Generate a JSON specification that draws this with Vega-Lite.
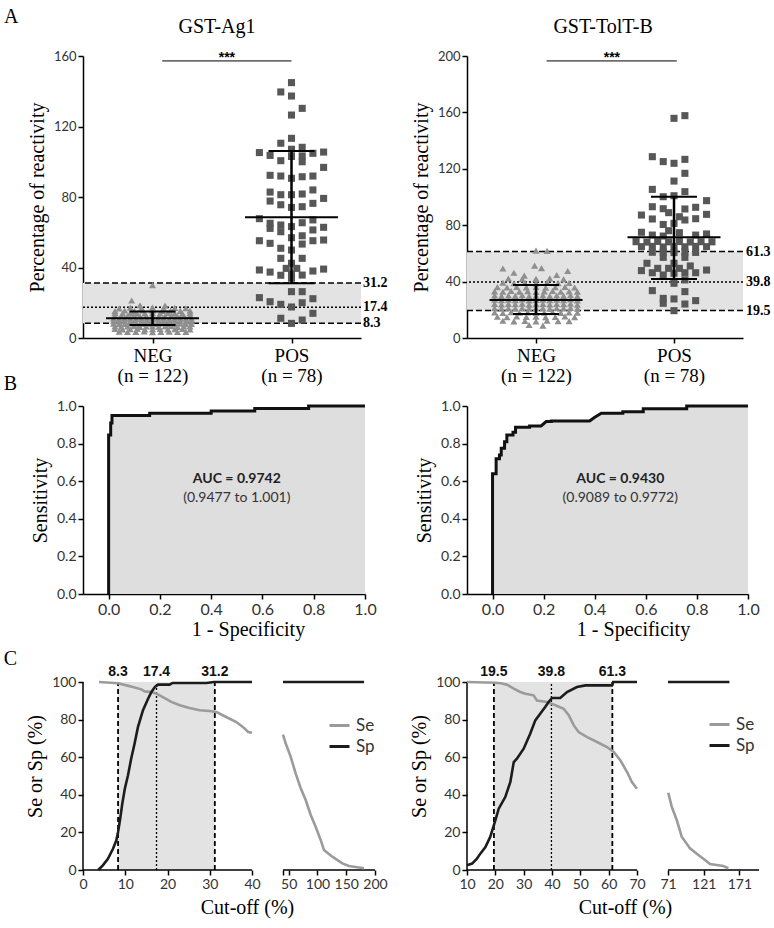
{
"$schema": "https://vega.github.io/schema/vega-lite/v6.json",
"autosize": {"type": "none"},
"padding": {"left": 83, "top": 56, "right": 691, "bottom": 872},
"background": "white",
"columns": 2,
"spacing": {"row": 68, "column": 92},
"bounds": "flush",
"align": "each",
"resolve": {"scale": {"color": "independent"}, "legend": {"color": "independent"}},
"config": {
  "view": {"stroke": null},
  "axis": {"domainColor": "#000", "domainWidth": 1.5, "tickColor": "#000", "tickWidth": 1.5, "tickSize": 5, "tickCount": 30, "labelFont": "Lato", "labelColor": "#333", "labelFontSize": 14, "titleFont": "Liberation Serif", "titleFontSize": 20, "titleFontWeight": "normal", "titleColor": "#000", "grid": false, "labelPadding": 2, "titlePadding": 6, "labelFlush": false, "labelOverlap": false}
},
"datasets": {
  "a1": [
    {"g":"N","x":1.0,"v":30.0},{"g":"N","x":0.85,"v":21.3},{"g":"N","x":0.91,"v":18.6},{"g":"N","x":1.09,"v":18.4},
    {"g":"N","x":0.76,"v":16.8},{"g":"N","x":0.84,"v":17.2},{"g":"N","x":0.92,"v":16.9},{"g":"N","x":1.0,"v":17.3},{"g":"N","x":1.08,"v":16.7},{"g":"N","x":1.16,"v":17.1},{"g":"N","x":1.24,"v":16.9},
    {"g":"N","x":0.73,"v":15.3},{"g":"N","x":0.80,"v":15.6},{"g":"N","x":0.87,"v":15.4},{"g":"N","x":0.93,"v":15.7},{"g":"N","x":1.0,"v":15.5},{"g":"N","x":1.07,"v":15.3},{"g":"N","x":1.13,"v":15.6},{"g":"N","x":1.20,"v":15.4},{"g":"N","x":1.27,"v":15.5},
    {"g":"N","x":0.73,"v":14.1},{"g":"N","x":0.785,"v":13.9},{"g":"N","x":0.84,"v":14.2},{"g":"N","x":0.89,"v":13.8},{"g":"N","x":0.945,"v":14.0},{"g":"N","x":1.0,"v":14.1},{"g":"N","x":1.055,"v":13.9},{"g":"N","x":1.11,"v":14.2},{"g":"N","x":1.16,"v":14.0},{"g":"N","x":1.215,"v":13.8},{"g":"N","x":1.27,"v":14.1},
    {"g":"N","x":0.73,"v":12.6},{"g":"N","x":0.775,"v":12.4},{"g":"N","x":0.82,"v":12.5},{"g":"N","x":0.865,"v":12.7},{"g":"N","x":0.91,"v":12.3},{"g":"N","x":0.955,"v":12.5},{"g":"N","x":1.0,"v":12.6},{"g":"N","x":1.045,"v":12.4},{"g":"N","x":1.09,"v":12.5},{"g":"N","x":1.135,"v":12.7},{"g":"N","x":1.18,"v":12.3},{"g":"N","x":1.225,"v":12.5},{"g":"N","x":1.27,"v":12.6},
    {"g":"N","x":0.72,"v":11.1},{"g":"N","x":0.76,"v":10.9},{"g":"N","x":0.80,"v":11.0},{"g":"N","x":0.84,"v":11.2},{"g":"N","x":0.88,"v":10.8},{"g":"N","x":0.92,"v":11.0},{"g":"N","x":0.96,"v":11.1},{"g":"N","x":1.0,"v":10.9},{"g":"N","x":1.04,"v":11.0},{"g":"N","x":1.08,"v":11.2},{"g":"N","x":1.12,"v":10.8},{"g":"N","x":1.16,"v":11.0},{"g":"N","x":1.20,"v":11.1},{"g":"N","x":1.24,"v":10.9},{"g":"N","x":1.28,"v":11.0},
    {"g":"N","x":0.72,"v":9.6},{"g":"N","x":0.76,"v":9.4},{"g":"N","x":0.80,"v":9.5},{"g":"N","x":0.84,"v":9.7},{"g":"N","x":0.88,"v":9.3},{"g":"N","x":0.92,"v":9.5},{"g":"N","x":0.96,"v":9.6},{"g":"N","x":1.0,"v":9.4},{"g":"N","x":1.04,"v":9.5},{"g":"N","x":1.08,"v":9.7},{"g":"N","x":1.12,"v":9.3},{"g":"N","x":1.16,"v":9.5},{"g":"N","x":1.20,"v":9.6},{"g":"N","x":1.24,"v":9.4},{"g":"N","x":1.28,"v":9.5},
    {"g":"N","x":0.72,"v":8.1},{"g":"N","x":0.76,"v":7.9},{"g":"N","x":0.80,"v":8.0},{"g":"N","x":0.84,"v":8.2},{"g":"N","x":0.88,"v":7.8},{"g":"N","x":0.92,"v":8.0},{"g":"N","x":0.96,"v":8.1},{"g":"N","x":1.0,"v":7.9},{"g":"N","x":1.04,"v":8.0},{"g":"N","x":1.08,"v":8.2},{"g":"N","x":1.12,"v":7.8},{"g":"N","x":1.16,"v":8.0},{"g":"N","x":1.20,"v":8.1},{"g":"N","x":1.24,"v":7.9},{"g":"N","x":1.28,"v":8.0},
    {"g":"N","x":0.73,"v":6.6},{"g":"N","x":0.775,"v":6.4},{"g":"N","x":0.82,"v":6.5},{"g":"N","x":0.865,"v":6.7},{"g":"N","x":0.91,"v":6.3},{"g":"N","x":0.955,"v":6.5},{"g":"N","x":1.0,"v":6.6},{"g":"N","x":1.045,"v":6.4},{"g":"N","x":1.09,"v":6.5},{"g":"N","x":1.135,"v":6.7},{"g":"N","x":1.18,"v":6.3},{"g":"N","x":1.225,"v":6.5},{"g":"N","x":1.27,"v":6.6},
    {"g":"N","x":0.73,"v":5.1},{"g":"N","x":0.785,"v":4.9},{"g":"N","x":0.84,"v":5.0},{"g":"N","x":0.89,"v":5.2},{"g":"N","x":0.945,"v":4.8},{"g":"N","x":1.0,"v":5.0},{"g":"N","x":1.055,"v":5.1},{"g":"N","x":1.11,"v":4.9},{"g":"N","x":1.16,"v":5.0},{"g":"N","x":1.215,"v":5.2},{"g":"N","x":1.27,"v":4.8},
    {"g":"N","x":0.76,"v":3.6},{"g":"N","x":0.82,"v":3.4},{"g":"N","x":0.88,"v":3.5},{"g":"N","x":0.94,"v":3.7},{"g":"N","x":1.0,"v":3.3},{"g":"N","x":1.06,"v":3.5},{"g":"N","x":1.12,"v":3.6},{"g":"N","x":1.18,"v":3.4},{"g":"N","x":1.24,"v":3.5},
    {"g":"P","x":2.0,"v":144.9},{"g":"P","x":1.923,"v":139.6},{"g":"P","x":2.0,"v":137.3},{"g":"P","x":2.077,"v":130.3},{"g":"P","x":2.0,"v":126.5},{"g":"P","x":2.0,"v":113.3},{"g":"P","x":1.923,"v":110.5},{"g":"P","x":2.077,"v":108.2},{"g":"P","x":2.0,"v":107.1},{"g":"P","x":1.769,"v":105.2},
    {"g":"P","x":1.846,"v":103.6},{"g":"P","x":2.077,"v":103.3},{"g":"P","x":2.154,"v":104.8},{"g":"P","x":2.231,"v":105.5},{"g":"P","x":1.923,"v":100.6},{"g":"P","x":2.077,"v":100.0},{"g":"P","x":2.0,"v":103.0},{"g":"P","x":2.231,"v":96.8},{"g":"P","x":1.846,"v":92.3},{"g":"P","x":1.923,"v":91.9},
    {"g":"P","x":2.0,"v":90.6},{"g":"P","x":2.077,"v":91.5},{"g":"P","x":2.154,"v":91.9},{"g":"P","x":1.846,"v":82.8},{"g":"P","x":1.923,"v":81.3},{"g":"P","x":2.0,"v":81.3},{"g":"P","x":2.077,"v":81.7},{"g":"P","x":2.154,"v":84.0},{"g":"P","x":2.231,"v":79.2},{"g":"P","x":1.846,"v":77.7},
    {"g":"P","x":1.923,"v":75.6},{"g":"P","x":2.0,"v":74.1},{"g":"P","x":2.077,"v":74.5},{"g":"P","x":2.154,"v":76.4},{"g":"P","x":1.769,"v":67.7},{"g":"P","x":1.846,"v":65.1},{"g":"P","x":1.846,"v":62.2},{"g":"P","x":1.923,"v":64.1},{"g":"P","x":1.923,"v":60.3},{"g":"P","x":2.0,"v":63.2},
    {"g":"P","x":2.077,"v":65.4},{"g":"P","x":2.154,"v":67.0},{"g":"P","x":2.154,"v":61.3},{"g":"P","x":2.231,"v":62.8},{"g":"P","x":2.0,"v":56.9},{"g":"P","x":2.077,"v":58.0},{"g":"P","x":1.769,"v":55.2},{"g":"P","x":1.846,"v":53.7},{"g":"P","x":2.077,"v":53.3},{"g":"P","x":2.154,"v":55.2},
    {"g":"P","x":2.231,"v":55.6},{"g":"P","x":1.923,"v":50.9},{"g":"P","x":2.0,"v":49.9},{"g":"P","x":1.923,"v":45.2},{"g":"P","x":2.077,"v":45.2},{"g":"P","x":2.0,"v":42.4},{"g":"P","x":1.769,"v":38.6},{"g":"P","x":1.846,"v":37.4},{"g":"P","x":1.923,"v":35.6},{"g":"P","x":1.962,"v":39.5},
    {"g":"P","x":2.038,"v":39.5},{"g":"P","x":2.0,"v":36.3},{"g":"P","x":2.077,"v":35.7},{"g":"P","x":2.154,"v":38.0},{"g":"P","x":2.231,"v":39.1},{"g":"P","x":2.0,"v":33.9},{"g":"P","x":2.0,"v":26.3},{"g":"P","x":2.077,"v":26.3},{"g":"P","x":1.769,"v":22.9},{"g":"P","x":1.846,"v":20.6},
    {"g":"P","x":1.923,"v":19.1},{"g":"P","x":2.0,"v":17.6},{"g":"P","x":2.077,"v":20.0},{"g":"P","x":2.154,"v":22.3},{"g":"P","x":2.154,"v":14.0},{"g":"P","x":1.923,"v":11.2},{"g":"P","x":2.0,"v":8.3},{"g":"P","x":2.077,"v":10.2}
  ],
  "a2": [
    {"g":"N","x":1.0,"v":62.0},{"g":"N","x":1.08,"v":61.8},{"g":"N","x":0.99,"v":51.3},{"g":"N","x":0.76,"v":49.3},{"g":"N","x":1.04,"v":49.6},{"g":"N","x":0.84,"v":46.3},{"g":"N","x":1.23,"v":47.5},{"g":"N","x":0.915,"v":44.2},{"g":"N","x":1.15,"v":44.7},
    {"g":"N","x":0.80,"v":42.2},{"g":"N","x":0.90,"v":41.8},{"g":"N","x":1.0,"v":42.0},{"g":"N","x":1.10,"v":42.3},{"g":"N","x":1.20,"v":41.7},
    {"g":"N","x":0.76,"v":39.2},{"g":"N","x":0.84,"v":38.8},{"g":"N","x":0.92,"v":39.1},{"g":"N","x":1.0,"v":38.7},{"g":"N","x":1.08,"v":39.3},{"g":"N","x":1.16,"v":38.9},{"g":"N","x":1.24,"v":39.0},
    {"g":"N","x":0.72,"v":36.1},{"g":"N","x":0.79,"v":35.8},{"g":"N","x":0.86,"v":36.3},{"g":"N","x":0.93,"v":35.9},{"g":"N","x":1.0,"v":36.2},{"g":"N","x":1.07,"v":35.7},{"g":"N","x":1.14,"v":36.0},{"g":"N","x":1.21,"v":36.3},{"g":"N","x":1.28,"v":35.8},
    {"g":"N","x":0.70,"v":33.1},{"g":"N","x":0.76,"v":32.8},{"g":"N","x":0.82,"v":33.3},{"g":"N","x":0.88,"v":32.9},{"g":"N","x":0.94,"v":33.2},{"g":"N","x":1.0,"v":32.7},{"g":"N","x":1.06,"v":33.0},{"g":"N","x":1.12,"v":33.3},{"g":"N","x":1.18,"v":32.8},{"g":"N","x":1.24,"v":33.1},{"g":"N","x":1.30,"v":32.9},
    {"g":"N","x":0.70,"v":30.2},{"g":"N","x":0.75,"v":29.8},{"g":"N","x":0.80,"v":30.1},{"g":"N","x":0.85,"v":29.9},{"g":"N","x":0.90,"v":30.3},{"g":"N","x":0.95,"v":29.7},{"g":"N","x":1.0,"v":30.0},{"g":"N","x":1.05,"v":30.2},{"g":"N","x":1.10,"v":29.8},{"g":"N","x":1.15,"v":30.1},{"g":"N","x":1.20,"v":29.9},{"g":"N","x":1.25,"v":30.3},{"g":"N","x":1.30,"v":29.7},
    {"g":"N","x":0.70,"v":27.2},{"g":"N","x":0.75,"v":26.8},{"g":"N","x":0.80,"v":27.1},{"g":"N","x":0.85,"v":26.9},{"g":"N","x":0.90,"v":27.3},{"g":"N","x":0.95,"v":26.7},{"g":"N","x":1.0,"v":27.0},{"g":"N","x":1.05,"v":27.2},{"g":"N","x":1.10,"v":26.8},{"g":"N","x":1.15,"v":27.1},{"g":"N","x":1.20,"v":26.9},{"g":"N","x":1.25,"v":27.3},{"g":"N","x":1.30,"v":26.7},
    {"g":"N","x":0.70,"v":24.2},{"g":"N","x":0.75,"v":23.8},{"g":"N","x":0.80,"v":24.1},{"g":"N","x":0.85,"v":23.9},{"g":"N","x":0.90,"v":24.3},{"g":"N","x":0.95,"v":23.7},{"g":"N","x":1.0,"v":24.0},{"g":"N","x":1.05,"v":24.2},{"g":"N","x":1.10,"v":23.8},{"g":"N","x":1.15,"v":24.1},{"g":"N","x":1.20,"v":23.9},{"g":"N","x":1.25,"v":24.3},{"g":"N","x":1.30,"v":23.7},
    {"g":"N","x":0.70,"v":21.2},{"g":"N","x":0.75,"v":20.8},{"g":"N","x":0.80,"v":21.1},{"g":"N","x":0.85,"v":20.9},{"g":"N","x":0.90,"v":21.3},{"g":"N","x":0.95,"v":20.7},{"g":"N","x":1.0,"v":21.0},{"g":"N","x":1.05,"v":21.2},{"g":"N","x":1.10,"v":20.8},{"g":"N","x":1.15,"v":21.1},{"g":"N","x":1.20,"v":20.9},{"g":"N","x":1.25,"v":21.3},{"g":"N","x":1.30,"v":20.7},
    {"g":"N","x":0.70,"v":18.1},{"g":"N","x":0.76,"v":17.8},{"g":"N","x":0.82,"v":18.3},{"g":"N","x":0.88,"v":17.9},{"g":"N","x":0.94,"v":18.2},{"g":"N","x":1.0,"v":17.7},{"g":"N","x":1.06,"v":18.0},{"g":"N","x":1.12,"v":18.3},{"g":"N","x":1.18,"v":17.8},{"g":"N","x":1.24,"v":18.1},{"g":"N","x":1.30,"v":17.9},
    {"g":"N","x":0.72,"v":15.1},{"g":"N","x":0.79,"v":14.8},{"g":"N","x":0.86,"v":15.3},{"g":"N","x":0.93,"v":14.9},{"g":"N","x":1.0,"v":15.2},{"g":"N","x":1.07,"v":14.7},{"g":"N","x":1.14,"v":15.0},{"g":"N","x":1.21,"v":15.3},{"g":"N","x":1.28,"v":14.8},
    {"g":"N","x":0.76,"v":12.2},{"g":"N","x":0.84,"v":11.8},{"g":"N","x":0.92,"v":12.1},{"g":"N","x":1.0,"v":11.7},{"g":"N","x":1.08,"v":12.3},{"g":"N","x":1.16,"v":11.9},{"g":"N","x":1.24,"v":12.0},
    {"g":"N","x":0.95,"v":9.2},{"g":"N","x":1.05,"v":8.8},
    {"g":"P","x":2.0,"v":155.8},{"g":"P","x":2.079,"v":157.7},{"g":"P","x":1.843,"v":128.6},{"g":"P","x":1.922,"v":125.1},{"g":"P","x":2.0,"v":123.9},{"g":"P","x":2.079,"v":126.7},{"g":"P","x":2.079,"v":116.8},{"g":"P","x":2.0,"v":111.3},{"g":"P","x":1.843,"v":105.4},{"g":"P","x":1.922,"v":100.2},
    {"g":"P","x":2.0,"v":100.9},{"g":"P","x":2.079,"v":103.8},{"g":"P","x":2.236,"v":97.4},{"g":"P","x":1.843,"v":93.1},{"g":"P","x":1.922,"v":91.7},{"g":"P","x":1.961,"v":88.9},{"g":"P","x":2.079,"v":91.5},{"g":"P","x":2.157,"v":92.7},{"g":"P","x":1.764,"v":87.2},{"g":"P","x":1.843,"v":84.4},
    {"g":"P","x":2.0,"v":81.3},{"g":"P","x":2.079,"v":83.7},{"g":"P","x":2.157,"v":84.6},{"g":"P","x":2.236,"v":87.7},{"g":"P","x":1.764,"v":75.0},{"g":"P","x":1.843,"v":73.0},{"g":"P","x":1.922,"v":72.3},{"g":"P","x":1.961,"v":76.1},{"g":"P","x":2.039,"v":74.7},{"g":"P","x":2.157,"v":73.0},
    {"g":"P","x":2.236,"v":73.8},
    {"g":"P","x":1.725,"v":68.3},{"g":"P","x":1.804,"v":68.0},{"g":"P","x":1.882,"v":68.5},{"g":"P","x":1.961,"v":68.2},{"g":"P","x":2.039,"v":68.4},{"g":"P","x":2.118,"v":68.1},{"g":"P","x":2.196,"v":68.3},{"g":"P","x":2.275,"v":68.2},
    {"g":"P","x":1.764,"v":64.8},{"g":"P","x":1.843,"v":65.0},{"g":"P","x":1.922,"v":64.6},{"g":"P","x":2.0,"v":64.9},{"g":"P","x":2.079,"v":64.7},{"g":"P","x":2.157,"v":65.0},{"g":"P","x":2.236,"v":64.8},
    {"g":"P","x":1.843,"v":60.8},{"g":"P","x":1.922,"v":61.0},{"g":"P","x":2.0,"v":60.6},{"g":"P","x":2.079,"v":60.9},{"g":"P","x":2.157,"v":60.7},
    {"g":"P","x":1.922,"v":57.2},{"g":"P","x":2.079,"v":57.2},{"g":"P","x":1.804,"v":53.0},{"g":"P","x":2.0,"v":53.0},{"g":"P","x":1.764,"v":47.8},{"g":"P","x":1.843,"v":46.3},{"g":"P","x":1.882,"v":49.4},{"g":"P","x":1.922,"v":44.7},{"g":"P","x":1.961,"v":49.4},{"g":"P","x":2.0,"v":45.9},
    {"g":"P","x":2.039,"v":49.4},{"g":"P","x":2.079,"v":46.3},{"g":"P","x":2.118,"v":51.1},{"g":"P","x":2.157,"v":46.3},{"g":"P","x":2.236,"v":48.2},{"g":"P","x":2.0,"v":38.8},{"g":"P","x":1.843,"v":33.6},{"g":"P","x":2.079,"v":32.9},{"g":"P","x":1.922,"v":28.1},{"g":"P","x":2.0,"v":27.7},
    {"g":"P","x":1.922,"v":24.6},{"g":"P","x":2.079,"v":24.1},{"g":"P","x":2.157,"v":26.5},{"g":"P","x":2.0,"v":19.4},{"g":"P","x":1.922,"v":80.5},{"g":"P","x":2.039,"v":86.0},{"g":"P","x":2.079,"v":41.2}
  ],
  "r1": [
    {"i":0,"f":0,"s":0},{"i":1,"f":0,"s":0.846},{"i":2,"f":0.008,"s":0.846},{"i":3,"f":0.008,"s":0.91},{"i":4,"f":0.013,"s":0.91},{"i":5,"f":0.013,"s":0.949},{"i":6,"f":0.16,"s":0.949},{"i":7,"f":0.16,"s":0.962},{"i":8,"f":0.40,"s":0.962},{"i":9,"f":0.40,"s":0.974},{"i":10,"f":0.57,"s":0.974},{"i":11,"f":0.57,"s":0.987},{"i":12,"f":0.78,"s":0.987},{"i":13,"f":0.78,"s":1.0},{"i":14,"f":1.0,"s":1.0}
  ],
  "r2": [
    {"i":0,"f":0,"s":0},{"i":1,"f":0,"s":0.64},{"i":2,"f":0.014,"s":0.64},{"i":3,"f":0.014,"s":0.72},{"i":4,"f":0.027,"s":0.72},{"i":5,"f":0.027,"s":0.74},{"i":6,"f":0.034,"s":0.74},{"i":7,"f":0.034,"s":0.775},{"i":8,"f":0.047,"s":0.775},{"i":9,"f":0.047,"s":0.81},{"i":10,"f":0.056,"s":0.81},{"i":11,"f":0.056,"s":0.846},{"i":12,"f":0.08,"s":0.846},{"i":13,"f":0.08,"s":0.86},{"i":14,"f":0.09,"s":0.86},{"i":15,"f":0.09,"s":0.887},{"i":16,"f":0.145,"s":0.887},{"i":17,"f":0.145,"s":0.894},{"i":18,"f":0.19,"s":0.894},{"i":19,"f":0.21,"s":0.917},{"i":20,"f":0.23,"s":0.917},{"i":21,"f":0.23,"s":0.92},{"i":22,"f":0.38,"s":0.92},{"i":23,"f":0.40,"s":0.94},{"i":24,"f":0.426,"s":0.961},{"i":25,"f":0.51,"s":0.961},{"i":26,"f":0.51,"s":0.97},{"i":27,"f":0.59,"s":0.97},{"i":28,"f":0.59,"s":0.985},{"i":29,"f":0.76,"s":0.985},{"i":30,"f":0.76,"s":1.0},{"i":31,"f":1.0,"s":1.0}
  ],
  "c1": [
    {"c":"Se","s":"e1","x":3.8,"y":100},{"c":"Se","s":"e1","x":8.3,"y":99.3},{"c":"Se","s":"e1","x":10.3,"y":98.2},{"c":"Se","s":"e1","x":11.8,"y":97.3},{"c":"Se","s":"e1","x":13.8,"y":96.1},{"c":"Se","s":"e1","x":14.6,"y":95.0},{"c":"Se","s":"e1","x":16.2,"y":94.7},{"c":"Se","s":"e1","x":17.4,"y":93.8},{"c":"Se","s":"e1","x":18.9,"y":92.0},{"c":"Se","s":"e1","x":20.9,"y":89.4},{"c":"Se","s":"e1","x":22.9,"y":87.6},{"c":"Se","s":"e1","x":25.2,"y":86.2},{"c":"Se","s":"e1","x":27.6,"y":85.0},{"c":"Se","s":"e1","x":29.9,"y":84.6},{"c":"Se","s":"e1","x":31.6,"y":84.0},{"c":"Se","s":"e1","x":33.9,"y":81.4},{"c":"Se","s":"e1","x":36.3,"y":78.7},{"c":"Se","s":"e1","x":37.9,"y":76.0},{"c":"Se","s":"e1","x":39.1,"y":73.4},{"c":"Se","s":"e1","x":40.0,"y":73.0},
    {"c":"Se","s":"e2","x":40.01,"y":72.0},{"c":"Se","s":"e2","x":44.6,"y":67.4},{"c":"Se","s":"e2","x":53.3,"y":60.3},{"c":"Se","s":"e2","x":62.0,"y":51.4},{"c":"Se","s":"e2","x":70.8,"y":43.5},{"c":"Se","s":"e2","x":79.5,"y":37.2},{"c":"Se","s":"e2","x":88.2,"y":29.3},{"c":"Se","s":"e2","x":96.8,"y":23.0},{"c":"Se","s":"e2","x":105.5,"y":16.0},{"c":"Se","s":"e2","x":111.3,"y":10.6},{"c":"Se","s":"e2","x":125.8,"y":7.1},{"c":"Se","s":"e2","x":143.2,"y":3.5},{"c":"Se","s":"e2","x":154.8,"y":2.1},{"c":"Se","s":"e2","x":180.9,"y":0.9},
    {"c":"Sp","s":"p1","x":3.6,"y":0},{"c":"Sp","s":"p1","x":4.7,"y":2.5},{"c":"Sp","s":"p1","x":5.9,"y":6.0},{"c":"Sp","s":"p1","x":7.1,"y":11.3},{"c":"Sp","s":"p1","x":7.9,"y":15.8},{"c":"Sp","s":"p1","x":8.3,"y":20.2},{"c":"Sp","s":"p1","x":8.8,"y":27.3},{"c":"Sp","s":"p1","x":9.3,"y":35.3},{"c":"Sp","s":"p1","x":9.9,"y":43.2},{"c":"Sp","s":"p1","x":10.65,"y":50.4},{"c":"Sp","s":"p1","x":11.4,"y":59.2},{"c":"Sp","s":"p1","x":12.2,"y":67.2},{"c":"Sp","s":"p1","x":13.0,"y":76.0},{"c":"Sp","s":"p1","x":14.2,"y":85.0},{"c":"Sp","s":"p1","x":15.4,"y":91.1},{"c":"Sp","s":"p1","x":16.2,"y":94.7},{"c":"Sp","s":"p1","x":17.0,"y":97.3},{"c":"Sp","s":"p1","x":17.75,"y":98.6},{"c":"Sp","s":"p1","x":20.5,"y":98.6},{"c":"Sp","s":"p1","x":21.2,"y":99.5},{"c":"Sp","s":"p1","x":29.2,"y":99.5},{"c":"Sp","s":"p1","x":31.0,"y":100},{"c":"Sp","s":"p1","x":40.0,"y":100},
    {"c":"Sp","s":"p2","x":40.01,"y":100},{"c":"Sp","s":"p2","x":181,"y":100}
  ],
  "c2": [
    {"c":"Se","s":"e1","x":10,"y":100},{"c":"Se","s":"e1","x":20,"y":99.6},{"c":"Se","s":"e1","x":22,"y":99.3},{"c":"Se","s":"e1","x":24.1,"y":98.6},{"c":"Se","s":"e1","x":26.5,"y":96.5},{"c":"Se","s":"e1","x":28.8,"y":94.7},{"c":"Se","s":"e1","x":30.6,"y":93.8},{"c":"Se","s":"e1","x":33.5,"y":92.9},{"c":"Se","s":"e1","x":34.7,"y":90.2},{"c":"Se","s":"e1","x":38.2,"y":89.4},{"c":"Se","s":"e1","x":41.2,"y":87.6},{"c":"Se","s":"e1","x":44.1,"y":85.8},{"c":"Se","s":"e1","x":45.9,"y":82.3},{"c":"Se","s":"e1","x":47.7,"y":76.9},{"c":"Se","s":"e1","x":49.4,"y":73.4},{"c":"Se","s":"e1","x":52.4,"y":70.7},{"c":"Se","s":"e1","x":55.9,"y":68.1},{"c":"Se","s":"e1","x":59.4,"y":65.4},{"c":"Se","s":"e1","x":61.8,"y":62.8},{"c":"Se","s":"e1","x":64.1,"y":58.4},{"c":"Se","s":"e1","x":66.5,"y":52.1},{"c":"Se","s":"e1","x":68.2,"y":46.8},{"c":"Se","s":"e1","x":70,"y":43.2},
    {"c":"Se","s":"e2","x":71.4,"y":41.1},{"c":"Se","s":"e2","x":76.2,"y":33.7},{"c":"Se","s":"e2","x":83.2,"y":26.6},{"c":"Se","s":"e2","x":90.2,"y":17.7},{"c":"Se","s":"e2","x":101.8,"y":11.5},{"c":"Se","s":"e2","x":113.5,"y":8.0},{"c":"Se","s":"e2","x":122.8,"y":5.3},{"c":"Se","s":"e2","x":129.8,"y":3.2},{"c":"Se","s":"e2","x":148.5,"y":2.1},{"c":"Se","s":"e2","x":155.5,"y":0.9},
    {"c":"Sp","s":"p1","x":10,"y":2.5},{"c":"Sp","s":"p1","x":11.8,"y":3.4},{"c":"Sp","s":"p1","x":13.5,"y":6.0},{"c":"Sp","s":"p1","x":14.7,"y":8.7},{"c":"Sp","s":"p1","x":16.5,"y":12.2},{"c":"Sp","s":"p1","x":18.2,"y":17.6},{"c":"Sp","s":"p1","x":20,"y":26.4},{"c":"Sp","s":"p1","x":21.2,"y":32.6},{"c":"Sp","s":"p1","x":23.5,"y":38.8},{"c":"Sp","s":"p1","x":25.3,"y":46.8},{"c":"Sp","s":"p1","x":26.5,"y":57.4},{"c":"Sp","s":"p1","x":27.6,"y":59.2},{"c":"Sp","s":"p1","x":30,"y":64.5},{"c":"Sp","s":"p1","x":32.3,"y":72.5},{"c":"Sp","s":"p1","x":34.1,"y":79.6},{"c":"Sp","s":"p1","x":35.9,"y":83.2},{"c":"Sp","s":"p1","x":37.6,"y":86.7},{"c":"Sp","s":"p1","x":38.8,"y":89.4},{"c":"Sp","s":"p1","x":40,"y":91.5},{"c":"Sp","s":"p1","x":42.9,"y":91.5},{"c":"Sp","s":"p1","x":45.3,"y":94.7},{"c":"Sp","s":"p1","x":48.8,"y":97.3},{"c":"Sp","s":"p1","x":51.8,"y":98.2},{"c":"Sp","s":"p1","x":61.2,"y":98.2},{"c":"Sp","s":"p1","x":61.6,"y":100},{"c":"Sp","s":"p1","x":70,"y":100},
    {"c":"Sp","s":"p2","x":71,"y":100},{"c":"Sp","s":"p2","x":157,"y":100}
  ]
},
"concat": [
  {
    "width": 278, "height": 282,
    "layer": [
      {"data": {"values": [{"lo": 8.3, "hi": 31.2}]}, "mark": {"type": "rect", "color": "#e3e3e3"},
       "encoding": {"y": {"field": "lo", "type": "quantitative", "scale": {"domain": [0, 160], "nice": false, "zero": false}, "axis": {"values": [0, 40, 80, 120, 160], "labelFontSize": 13, "title": "Percentage of reactivity"}}, "y2": {"field": "hi"}}},
      {"data": {"values": [{"t": 31.2}, {"t": 8.3}]}, "mark": {"type": "rule", "color": "#000", "strokeWidth": 1.5, "strokeDash": [6, 3]}, "encoding": {"y": {"field": "t", "type": "quantitative"}}},
      {"data": {"values": [{"t": 17.4}]}, "mark": {"type": "rule", "color": "#000", "strokeWidth": 1.5, "strokeDash": [2, 2]}, "encoding": {"y": {"field": "t", "type": "quantitative"}}},
      {"data": {"name": "a1"}, "transform": [{"filter": "datum.g == 'N'"}], "mark": {"type": "point", "shape": "triangle-up", "filled": true, "color": "#8f8f8f", "size": 50, "opacity": 1},
       "encoding": {"x": {"field": "x", "type": "quantitative", "scale": {"domain": [0.5, 2.5], "nice": false, "zero": false}, "axis": {"values": [1, 2], "labelExpr": "datum.value == 1 ? ['NEG', '(n = 122)'] : ['POS', '(n = 78)']", "labelFont": "Liberation Serif", "labelFontSize": 19, "labelColor": "#000", "labelLineHeight": 20, "labelPadding": 3, "title": null}}, "y": {"field": "v", "type": "quantitative"}}},
      {"data": {"name": "a1"}, "transform": [{"filter": "datum.g == 'P'"}], "mark": {"type": "point", "shape": "square", "filled": true, "color": "#575757", "size": 50, "opacity": 1},
       "encoding": {"x": {"field": "x", "type": "quantitative"}, "y": {"field": "v", "type": "quantitative"}}},
      {"data": {"values": [{"x": 1, "m": 11.2, "lo": 7.4, "hi": 15.0}, {"x": 2, "m": 68.5, "lo": 31.0, "hi": 106.1}]},
       "layer": [
         {"mark": {"type": "rule", "color": "#000", "strokeWidth": 2.5}, "encoding": {"x": {"field": "x", "type": "quantitative"}, "y": {"field": "lo", "type": "quantitative"}, "y2": {"field": "hi"}}},
         {"mark": {"type": "tick", "orient": "horizontal", "color": "#000", "size": 93, "thickness": 2, "opacity": 1}, "encoding": {"x": {"field": "x", "type": "quantitative"}, "y": {"field": "m", "type": "quantitative"}}},
         {"mark": {"type": "tick", "orient": "horizontal", "color": "#000", "size": 46, "thickness": 2, "opacity": 1}, "encoding": {"x": {"field": "x", "type": "quantitative"}, "y": {"field": "lo", "type": "quantitative"}}},
         {"mark": {"type": "tick", "orient": "horizontal", "color": "#000", "size": 46, "thickness": 2, "opacity": 1}, "encoding": {"x": {"field": "x", "type": "quantitative"}, "y": {"field": "hi", "type": "quantitative"}}}
       ]},
      {"data": {"values": [{"t": 31.2}, {"t": 17.4}, {"t": 8.3}]}, "mark": {"type": "text", "font": "Liberation Serif", "fontWeight": "bold", "fontSize": 14, "align": "left", "baseline": "middle", "dx": 2, "color": "#000"},
       "encoding": {"x": {"value": "width"}, "y": {"field": "t", "type": "quantitative"}, "text": {"field": "t", "type": "quantitative", "format": ".1f"}}},
      {"data": {"values": [{"a": 1.07, "b": 2.0, "y": 157.2, "m": 1.535, "s": "***"}]},
       "layer": [
         {"mark": {"type": "rule", "color": "#000", "strokeWidth": 1}, "encoding": {"x": {"field": "a", "type": "quantitative"}, "x2": {"field": "b"}, "y": {"field": "y", "type": "quantitative"}}},
         {"mark": {"type": "text", "font": "Liberation Sans", "fontWeight": "bold", "fontSize": 14, "baseline": "alphabetic", "dy": 1, "color": "#000"}, "encoding": {"x": {"field": "m", "type": "quantitative"}, "y": {"field": "y", "type": "quantitative"}, "text": {"field": "s"}}}
       ]},
      {"data": {"values": [{"x": 1.464, "y": 173.05, "t": "GST-Ag1"}]}, "mark": {"type": "text", "font": "Liberation Serif", "fontSize": 20, "align": "center", "baseline": "alphabetic", "color": "#000"},
       "encoding": {"x": {"field": "x", "type": "quantitative"}, "y": {"field": "y", "type": "quantitative"}, "text": {"field": "t"}}},
      {"data": {"values": [{"x": -0.068, "y": 178.7, "t": "A"}]}, "mark": {"type": "text", "font": "Liberation Serif", "fontSize": 20, "align": "left", "baseline": "alphabetic", "color": "#000"},
       "encoding": {"x": {"field": "x", "type": "quantitative"}, "y": {"field": "y", "type": "quantitative"}, "text": {"field": "t"}}}
    ]
  },
  {
    "width": 276, "height": 282,
    "layer": [
      {"data": {"values": [{"lo": 19.5, "hi": 61.3}]}, "mark": {"type": "rect", "color": "#e3e3e3"},
       "encoding": {"y": {"field": "lo", "type": "quantitative", "scale": {"domain": [0, 200], "nice": false, "zero": false}, "axis": {"values": [0, 40, 80, 120, 160, 200], "labelFontSize": 13, "title": "Percentage of reactivity"}}, "y2": {"field": "hi"}}},
      {"data": {"values": [{"t": 61.3}, {"t": 19.5}]}, "mark": {"type": "rule", "color": "#000", "strokeWidth": 1.5, "strokeDash": [6, 3]}, "encoding": {"y": {"field": "t", "type": "quantitative"}}},
      {"data": {"values": [{"t": 39.8}]}, "mark": {"type": "rule", "color": "#000", "strokeWidth": 1.5, "strokeDash": [2, 2]}, "encoding": {"y": {"field": "t", "type": "quantitative"}}},
      {"data": {"name": "a2"}, "transform": [{"filter": "datum.g == 'N'"}], "mark": {"type": "point", "shape": "triangle-up", "filled": true, "color": "#8f8f8f", "size": 50, "opacity": 1},
       "encoding": {"x": {"field": "x", "type": "quantitative", "scale": {"domain": [0.5, 2.5], "nice": false, "zero": false}, "axis": {"values": [1, 2], "labelExpr": "datum.value == 1 ? ['NEG', '(n = 122)'] : ['POS', '(n = 78)']", "labelFont": "Liberation Serif", "labelFontSize": 19, "labelColor": "#000", "labelLineHeight": 20, "labelPadding": 3, "title": null}}, "y": {"field": "v", "type": "quantitative"}}},
      {"data": {"name": "a2"}, "transform": [{"filter": "datum.g == 'P'"}], "mark": {"type": "point", "shape": "square", "filled": true, "color": "#575757", "size": 50, "opacity": 1},
       "encoding": {"x": {"field": "x", "type": "quantitative"}, "y": {"field": "v", "type": "quantitative"}}},
      {"data": {"values": [{"x": 1, "m": 27.0, "lo": 17.0, "hi": 37.6}, {"x": 2, "m": 71.4, "lo": 41.8, "hi": 100.2}]},
       "layer": [
         {"mark": {"type": "rule", "color": "#000", "strokeWidth": 2.5}, "encoding": {"x": {"field": "x", "type": "quantitative"}, "y": {"field": "lo", "type": "quantitative"}, "y2": {"field": "hi"}}},
         {"mark": {"type": "tick", "orient": "horizontal", "color": "#000", "size": 93, "thickness": 2, "opacity": 1}, "encoding": {"x": {"field": "x", "type": "quantitative"}, "y": {"field": "m", "type": "quantitative"}}},
         {"mark": {"type": "tick", "orient": "horizontal", "color": "#000", "size": 46, "thickness": 2, "opacity": 1}, "encoding": {"x": {"field": "x", "type": "quantitative"}, "y": {"field": "lo", "type": "quantitative"}}},
         {"mark": {"type": "tick", "orient": "horizontal", "color": "#000", "size": 46, "thickness": 2, "opacity": 1}, "encoding": {"x": {"field": "x", "type": "quantitative"}, "y": {"field": "hi", "type": "quantitative"}}}
       ]},
      {"data": {"values": [{"t": 61.3}, {"t": 39.8}, {"t": 19.5}]}, "mark": {"type": "text", "font": "Liberation Serif", "fontWeight": "bold", "fontSize": 14, "align": "left", "baseline": "middle", "dx": 3, "color": "#000"},
       "encoding": {"x": {"value": "width"}, "y": {"field": "t", "type": "quantitative"}, "text": {"field": "t", "type": "quantitative", "format": ".1f"}}},
      {"data": {"values": [{"a": 1.077, "b": 2.02, "y": 196.5, "m": 1.55, "s": "***"}]},
       "layer": [
         {"mark": {"type": "rule", "color": "#000", "strokeWidth": 1}, "encoding": {"x": {"field": "a", "type": "quantitative"}, "x2": {"field": "b"}, "y": {"field": "y", "type": "quantitative"}}},
         {"mark": {"type": "text", "font": "Liberation Sans", "fontWeight": "bold", "fontSize": 14, "baseline": "alphabetic", "dy": 1, "color": "#000"}, "encoding": {"x": {"field": "m", "type": "quantitative"}, "y": {"field": "y", "type": "quantitative"}, "text": {"field": "s"}}}
       ]},
      {"data": {"values": [{"x": 1.486, "y": 216.3, "t": "GST-TolT-B"}]}, "mark": {"type": "text", "font": "Liberation Serif", "fontSize": 20, "align": "center", "baseline": "alphabetic", "color": "#000"},
       "encoding": {"x": {"field": "x", "type": "quantitative"}, "y": {"field": "y", "type": "quantitative"}, "text": {"field": "t"}}}
    ]
  },
  {
    "width": 282, "height": 188,
    "layer": [
      {"data": {"name": "r1"}, "mark": {"type": "area", "color": "#dedede", "opacity": 1},
       "encoding": {"x": {"field": "f", "type": "quantitative", "scale": {"domain": [-0.1, 1], "nice": false, "zero": false}, "axis": {"values": [0, 0.2, 0.4, 0.6, 0.8, 1], "format": ".1f", "labelFontSize": 16, "title": "1 - Specificity", "titleX": 165, "titlePadding": 2}},
                    "y": {"field": "s", "type": "quantitative", "stack": null, "scale": {"domain": [0, 1], "nice": false}, "axis": {"values": [0, 0.2, 0.4, 0.6, 0.8, 1], "format": ".1f", "labelFontSize": 14, "title": "Sensitivity"}}}},
      {"data": {"name": "r1"}, "mark": {"type": "line", "color": "#111", "strokeWidth": 3},
       "encoding": {"x": {"field": "f", "type": "quantitative"}, "y": {"field": "s", "type": "quantitative"}, "order": {"field": "i", "type": "quantitative"}}},
      {"data": {"values": [{"x": 0.5, "y": 0.61, "t": "AUC = 0.9742"}]}, "mark": {"type": "text", "font": "Lato", "fontWeight": "bold", "fontSize": 14, "color": "#222"},
       "encoding": {"x": {"field": "x", "type": "quantitative"}, "y": {"field": "y", "type": "quantitative"}, "text": {"field": "t"}}},
      {"data": {"values": [{"x": 0.5, "y": 0.51, "t": "(0.9477 to 1.001)"}]}, "mark": {"type": "text", "font": "Lato", "fontSize": 14, "color": "#333"},
       "encoding": {"x": {"field": "x", "type": "quantitative"}, "y": {"field": "y", "type": "quantitative"}, "text": {"field": "t"}}},
      {"data": {"values": [{"x": -0.409, "y": 1.085, "t": "B"}, {"x": -0.409, "y": -0.378, "t": "C"}]}, "mark": {"type": "text", "font": "Liberation Serif", "fontSize": 20, "align": "left", "baseline": "alphabetic", "color": "#000"},
       "encoding": {"x": {"field": "x", "type": "quantitative"}, "y": {"field": "y", "type": "quantitative"}, "text": {"field": "t"}}}
    ]
  },
  {
    "width": 281, "height": 188,
    "layer": [
      {"data": {"name": "r2"}, "mark": {"type": "area", "color": "#dedede", "opacity": 1},
       "encoding": {"x": {"field": "f", "type": "quantitative", "scale": {"domain": [-0.1, 1], "nice": false, "zero": false}, "axis": {"values": [0, 0.2, 0.4, 0.6, 0.8, 1], "format": ".1f", "labelFontSize": 16, "title": "1 - Specificity", "titleX": 166, "titlePadding": 2}},
                    "y": {"field": "s", "type": "quantitative", "stack": null, "scale": {"domain": [0, 1], "nice": false}, "axis": {"values": [0, 0.2, 0.4, 0.6, 0.8, 1], "format": ".1f", "labelFontSize": 14, "title": "Sensitivity"}}}},
      {"data": {"name": "r2"}, "mark": {"type": "line", "color": "#111", "strokeWidth": 3},
       "encoding": {"x": {"field": "f", "type": "quantitative"}, "y": {"field": "s", "type": "quantitative"}, "order": {"field": "i", "type": "quantitative"}}},
      {"data": {"values": [{"x": 0.5, "y": 0.61, "t": "AUC = 0.9430"}]}, "mark": {"type": "text", "font": "Lato", "fontWeight": "bold", "fontSize": 14, "color": "#222"},
       "encoding": {"x": {"field": "x", "type": "quantitative"}, "y": {"field": "y", "type": "quantitative"}, "text": {"field": "t"}}},
      {"data": {"values": [{"x": 0.5, "y": 0.51, "t": "(0.9089 to 0.9772)"}]}, "mark": {"type": "text", "font": "Lato", "fontSize": 14, "color": "#333"},
       "encoding": {"x": {"field": "x", "type": "quantitative"}, "y": {"field": "y", "type": "quantitative"}, "text": {"field": "t"}}}
    ]
  },
  {
    "width": 292, "height": 208,
    "layer": [
      {"data": {"values": [{"a": 8.3, "b": 31.2, "lo": 0, "hi": 100}]}, "mark": {"type": "rect", "color": "#e3e3e3"},
       "encoding": {"x": {"field": "a", "type": "quantitative", "scale": {"domain": [0, 40, 40.01, 200], "range": [0, 169, 200, 292], "nice": false, "zero": false}, "axis": {"values": [0, 10, 20, 30, 40, 40.01, 50, 100, 150, 200], "labelExpr": "datum.value == 40.01 ? '' : datum.label", "domain": false, "labelFontSize": 14, "title": "Cut-off (%)", "titleX": 164, "titlePadding": 6}},
                    "x2": {"field": "b"},
                    "y": {"field": "lo", "type": "quantitative", "scale": {"domain": [0, 110.64], "nice": false, "zero": false}, "axis": {"values": [0, 20, 40, 60, 80, 100], "domain": false, "labelFontSize": 14, "title": "Se or Sp (%)"}},
                    "y2": {"field": "hi"}}},
      {"data": {"values": [{"t": 8.3}, {"t": 31.2}]}, "mark": {"type": "rule", "color": "#000", "strokeWidth": 1.8, "strokeDash": [5, 3]},
       "encoding": {"x": {"field": "t", "type": "quantitative"}, "y": {"datum": 0}, "y2": {"datum": 100}}},
      {"data": {"values": [{"t": 17.4}]}, "mark": {"type": "rule", "color": "#000", "strokeWidth": 1.3, "strokeDash": [2, 2]},
       "encoding": {"x": {"field": "t", "type": "quantitative"}, "y": {"datum": 0}, "y2": {"datum": 100}}},
      {"data": {"values": [{"a": 0, "b": 40}, {"a": 40.01, "b": 200}]}, "mark": {"type": "rule", "color": "#000", "strokeWidth": 1.5},
       "encoding": {"x": {"field": "a", "type": "quantitative"}, "x2": {"field": "b"}, "y": {"datum": 0}}},
      {"data": {"values": [{"a": 0}]}, "mark": {"type": "rule", "color": "#000", "strokeWidth": 1.5},
       "encoding": {"x": {"field": "a", "type": "quantitative"}, "y": {"datum": 0}, "y2": {"datum": 100}}},
      {"data": {"name": "c1"}, "mark": {"type": "line", "strokeWidth": 2.6},
       "encoding": {"x": {"field": "x", "type": "quantitative"}, "y": {"field": "y", "type": "quantitative"}, "detail": {"field": "s"},
                    "color": {"field": "c", "type": "nominal", "scale": {"domain": ["Se", "Sp"], "range": ["#9b9b9b", "#1c1c1c"]},
                              "legend": {"orient": "none", "legendX": 245, "legendY": 52, "title": null, "symbolType": "stroke", "symbolStrokeWidth": 3, "symbolSize": 400, "labelFont": "Lato", "labelFontSize": 17, "labelColor": "#333", "rowPadding": 1, "labelOffset": 5, "padding": 0}}}},
      {"data": {"values": [{"t": 8.3}, {"t": 17.4}, {"t": 31.2}]}, "mark": {"type": "text", "font": "Liberation Sans", "fontWeight": "bold", "fontSize": 14, "baseline": "middle", "color": "#111"},
       "encoding": {"x": {"field": "t", "type": "quantitative"}, "y": {"datum": 105.5}, "text": {"field": "t", "type": "quantitative", "format": ".1f"}}}
    ]
  },
  {
    "width": 292, "height": 208,
    "layer": [
      {"data": {"values": [{"a": 19.5, "b": 61.3, "lo": 0, "hi": 100}]}, "mark": {"type": "rect", "color": "#e3e3e3"},
       "encoding": {"x": {"field": "a", "type": "quantitative", "scale": {"domain": [10, 70, 71, 198.4], "range": [0, 170, 201, 292], "nice": false, "zero": false}, "axis": {"values": [10, 20, 30, 40, 50, 60, 70, 71, 121, 171], "domain": false, "labelFontSize": 14, "title": "Cut-off (%)", "titleX": 158, "titlePadding": 6}},
                    "x2": {"field": "b"},
                    "y": {"field": "lo", "type": "quantitative", "scale": {"domain": [0, 110.64], "nice": false, "zero": false}, "axis": {"values": [0, 20, 40, 60, 80, 100], "domain": false, "labelFontSize": 14, "title": "Se or Sp (%)"}},
                    "y2": {"field": "hi"}}},
      {"data": {"values": [{"t": 19.5}, {"t": 61.3}]}, "mark": {"type": "rule", "color": "#000", "strokeWidth": 1.8, "strokeDash": [5, 3]},
       "encoding": {"x": {"field": "t", "type": "quantitative"}, "y": {"datum": 0}, "y2": {"datum": 100}}},
      {"data": {"values": [{"t": 39.8}]}, "mark": {"type": "rule", "color": "#000", "strokeWidth": 1.3, "strokeDash": [2, 2]},
       "encoding": {"x": {"field": "t", "type": "quantitative"}, "y": {"datum": 0}, "y2": {"datum": 100}}},
      {"data": {"values": [{"a": 10, "b": 70}, {"a": 71, "b": 198.4}]}, "mark": {"type": "rule", "color": "#000", "strokeWidth": 1.5},
       "encoding": {"x": {"field": "a", "type": "quantitative"}, "x2": {"field": "b"}, "y": {"datum": 0}}},
      {"data": {"values": [{"a": 10}]}, "mark": {"type": "rule", "color": "#000", "strokeWidth": 1.5},
       "encoding": {"x": {"field": "a", "type": "quantitative"}, "y": {"datum": 0}, "y2": {"datum": 100}}},
      {"data": {"name": "c2"}, "mark": {"type": "line", "strokeWidth": 2.6},
       "encoding": {"x": {"field": "x", "type": "quantitative"}, "y": {"field": "y", "type": "quantitative"}, "detail": {"field": "s"},
                    "color": {"field": "c", "type": "nominal", "scale": {"domain": ["Se", "Sp"], "range": ["#9b9b9b", "#1c1c1c"]},
                              "legend": {"orient": "none", "legendX": 241, "legendY": 51, "title": null, "symbolType": "stroke", "symbolStrokeWidth": 3, "symbolSize": 400, "labelFont": "Lato", "labelFontSize": 17, "labelColor": "#333", "rowPadding": 1, "labelOffset": 5, "padding": 0}}}},
      {"data": {"values": [{"t": 19.5}, {"t": 39.8}, {"t": 61.3}]}, "mark": {"type": "text", "font": "Liberation Sans", "fontWeight": "bold", "fontSize": 14, "baseline": "middle", "color": "#111"},
       "encoding": {"x": {"field": "t", "type": "quantitative"}, "y": {"datum": 105.5}, "text": {"field": "t", "type": "quantitative", "format": ".1f"}}}
    ]
  }
]
}
